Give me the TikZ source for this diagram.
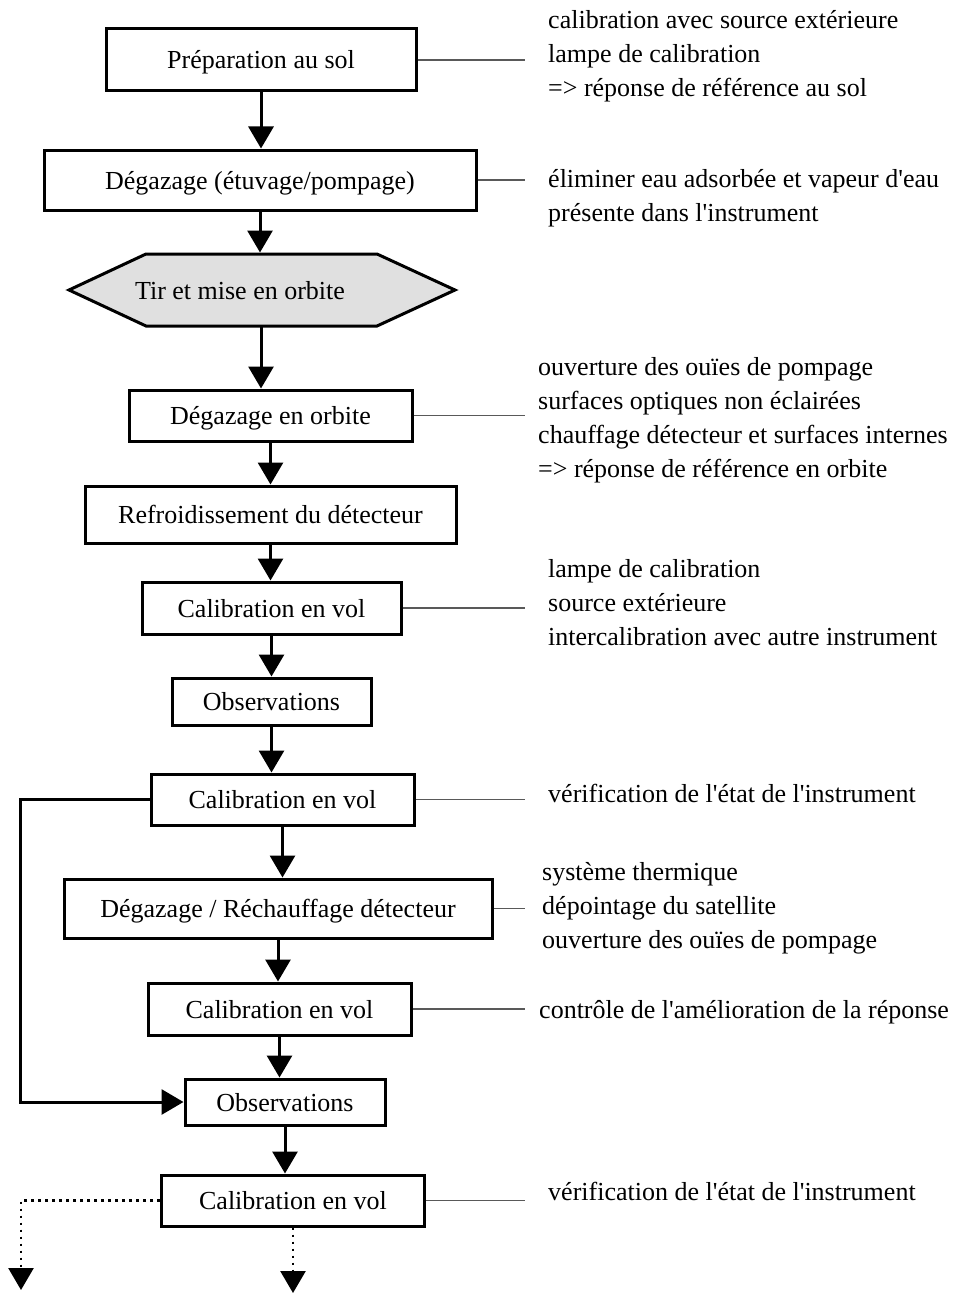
\documentclass[tikz,border=0pt]{standalone}
\usepackage{fontspec}
\setmainfont{Liberation Serif}[Ligatures=TeXOff]
\usetikzlibrary{arrows.meta}
\begin{document}
\begin{tikzpicture}[x=1pt,y=-1pt,
  every node/.style={font=\fontsize{26}{34}\selectfont},
  box/.style={draw, line width=3pt, inner sep=0pt, text height=24pt, text depth=6pt},
  arr/.style={line width=3pt, -{Triangle[width=25pt,length=22pt]}},
  dotarr/.style={line width=2.6pt, dash pattern=on 2.6pt off 4.4pt, -{Triangle[width=25pt,length=22pt]}},
  note/.style={line width=1.2pt, draw=black!65},
  ann/.style={anchor=base west, inner sep=0pt},
  hexfill/.style={line width=3pt, fill=black!12, line join=miter}
]
\useasboundingbox (0,0) rectangle (959,1295);

% boxes
\node[box, minimum width=310pt, minimum height=62pt] (b1) at (261,60) {Préparation au sol};
\node[box, minimum width=432pt, minimum height=60pt] (b2) at (260,180) {Dégazage (étuvage/pompage)};
\draw[hexfill] (69,290) -- (146,254) -- (377,254) -- (455,290) -- (377,326) -- (146,326) -- cycle;
\coordinate (hexT) at (261,254);
\coordinate (hexB) at (261,326);
\node[inner sep=0pt, text height=24pt, text depth=6pt] (hex) at (240,290) {Tir et mise en orbite};
\node[box, minimum width=283pt, minimum height=51pt] (b3) at (270.5,415.5) {Dégazage en orbite};
\node[box, minimum width=371pt, minimum height=57pt] (b4) at (270.5,514.5) {Refroidissement du détecteur};
\node[box, minimum width=259pt, minimum height=52pt] (b5) at (271.5,608) {Calibration en vol};
\node[box, minimum width=199pt, minimum height=47pt] (b6) at (271.5,701.5) {Observations};
\node[box, minimum width=263pt, minimum height=51pt] (b7) at (282.5,799.5) {Calibration en vol};
\node[box, minimum width=428pt, minimum height=59pt] (b8) at (278,908.5) {Dégazage / Réchauffage détecteur};
\node[box, minimum width=263pt, minimum height=52pt] (b9) at (279.5,1009) {Calibration en vol};
\node[box, minimum width=200pt, minimum height=46pt] (b10) at (285,1102) {Observations};
\node[box, minimum width=263pt, minimum height=51pt] (b11) at (293,1200.5) {Calibration en vol};

% main flow
\draw[arr] (b1.south) -- (b1.south |- b2.north);
\draw[arr, shorten >=1.5pt] (b2.south) -- (b2.south |- hexT);
\draw[arr] (hexB) -- (hexB |- b3.north);
\draw[arr] (b3.south) -- (b3.south |- b4.north);
\draw[arr] (b4.south) -- (b4.south |- b5.north);
\draw[arr] (b5.south) -- (b5.south |- b6.north);
\draw[arr] (b6.south) -- (b6.south |- b7.north);
\draw[arr] (b7.south) -- (b7.south |- b8.north);
\draw[arr] (b8.south) -- (b8.south |- b9.north);
\draw[arr] (b9.south) -- (b9.south |- b10.north);
\draw[arr] (b10.south) -- (b10.south |- b11.north);

% loop
\coordinate (L) at (20,0);
\draw[arr] (b7.west) -- (b7.west -| L) |- (b10.west);

% dotted continuations
\coordinate (D1) at (21,1290);
\coordinate (D2) at (293,1293);
\draw[dotarr] (b11.west) -| (D1);
\draw[dotarr] (b11.south) -- (b11.south |- D2);

% annotation leaders
\coordinate (N) at (525,0);
\foreach \b in {b1,b2,b3,b5,b7,b8,b9,b11}
  \draw[note] (\b.east) -- (\b.east -| N);

% annotations
\node[ann] (a1) at (548,29) {\begin{tabular}[t]{@{}l@{}}calibration avec source extérieure\\ lampe de calibration\\ => réponse de référence au sol\end{tabular}};
\node[ann] (a2) at (548,187) {\begin{tabular}[t]{@{}l@{}}éliminer eau adsorbée et vapeur d'eau\\ présente dans l'instrument\end{tabular}};
\node[ann] (a3) at (538,375) {\begin{tabular}[t]{@{}l@{}}ouverture des ouïes de pompage\\ surfaces optiques non éclairées\\ chauffage détecteur et surfaces internes\\ => réponse de référence en orbite\end{tabular}};
\node[ann] (a4) at (548,577) {\begin{tabular}[t]{@{}l@{}}lampe de calibration\\ source extérieure\\ intercalibration avec autre instrument\end{tabular}};
\node[ann] (a5) at (548,802) {vérification de l'état de l'instrument};
\node[ann] (a6) at (542,880) {\begin{tabular}[t]{@{}l@{}}système thermique\\ dépointage du satellite\\ ouverture des ouïes de pompage\end{tabular}};
\node[ann] (a7) at (539,1018) {contrôle de l'amélioration de la réponse};
\node[ann] (a8) at (548,1200) {vérification de l'état de l'instrument};
\end{tikzpicture}
\end{document}
